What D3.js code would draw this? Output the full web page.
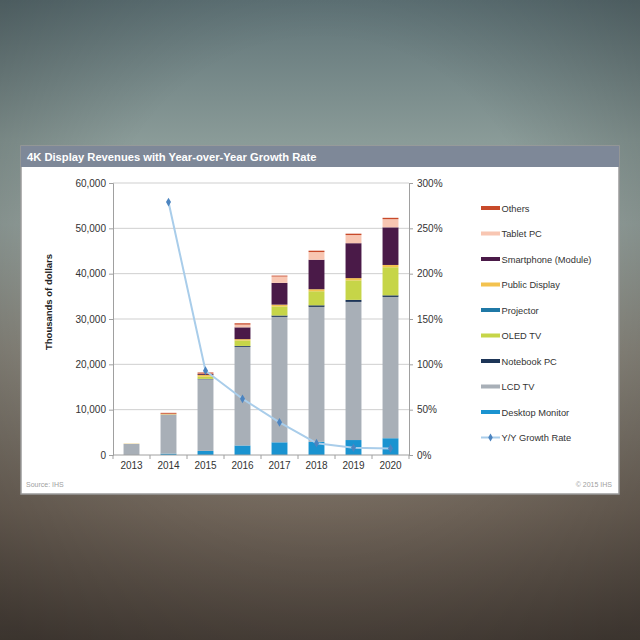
<!DOCTYPE html>
<html>
<head>
<meta charset="utf-8">
<script src="https://cdn.jsdelivr.net/npm/d3@7"></script>
<style>
html,body{margin:0;padding:0;background:#6c7472;}
svg{display:block;font-family:"Liberation Sans",Arial,sans-serif;}
</style>
</head>
<body>
<svg id="chart" width="640" height="640"></svg>
<script>
const years = ["2013","2014","2015","2016","2017","2018","2019","2020"];
const desktopMonitor = [0, 300, 900, 2100, 2800, 2900, 3300, 3700];
const lcdTV = [2450, 8650, 15800, 21760, 27670, 29770, 30470, 31170];
const notebookPC = [0, 0, 100, 200, 300, 350, 450, 350];
const oledTV = [0, 0, 500, 1200, 2000, 3100, 4300, 6200];
const projector = [0, 0, 0, 0, 0, 0, 0, 0];
const publicDisplay = [60, 150, 350, 300, 400, 450, 500, 500];
const smartphone = [0, 0, 200, 2600, 4800, 6500, 7700, 8300];
const tabletPC = [0, 0, 100, 600, 1400, 1700, 1800, 1800];
const others = [0, 200, 250, 300, 200, 300, 300, 300];
const growthRate = [null, 279, 93, 62, 36, 13, 8, 7.3];
const leftTicks = [0, 10000, 20000, 30000, 40000, 50000, 60000];
const rightTicks = [0, 50, 100, 150, 200, 250, 300];

const seriesNames = ["Desktop Monitor","LCD TV","Notebook PC","OLED TV","Projector","Public Display","Smartphone (Module)","Tablet PC","Others"];
const seriesValues = [desktopMonitor, lcdTV, notebookPC, oledTV, projector, publicDisplay, smartphone, tabletPC, others];
const colors = {
  "Desktop Monitor":"#1a93d0","LCD TV":"#a8afb7","Notebook PC":"#1d3557","OLED TV":"#c6d548",
  "Projector":"#1f78a6","Public Display":"#f3c24f","Smartphone (Module)":"#4a1a48","Tablet PC":"#f8c6b2","Others":"#c84a2a"
};

const svg = d3.select("#chart");
const defs = svg.append("defs");
const lg = defs.append("linearGradient").attr("id","bg").attr("x1",0).attr("y1",0).attr("x2",0).attr("y2",1);
[[0,"#5f7377"],[0.22,"#8a9b98"],[0.35,"#96a39f"],[0.55,"#8d8a80"],[0.8,"#766a5e"],[1,"#524840"]].forEach(s=>lg.append("stop").attr("offset",s[0]).attr("stop-color",s[1]));
const rg = defs.append("radialGradient").attr("id","vig").attr("cx",0.5).attr("cy",0.4).attr("r",0.75);
rg.append("stop").attr("offset",0.45).attr("stop-color","#000").attr("stop-opacity",0);
rg.append("stop").attr("offset",1).attr("stop-color","#000").attr("stop-opacity",0.28);
svg.append("rect").attr("width",640).attr("height",640).attr("fill","url(#bg)");
svg.append("rect").attr("width",640).attr("height",640).attr("fill","url(#vig)");

// card
svg.append("rect").attr("x",21).attr("y",146).attr("width",598).attr("height",348).attr("fill","#fff").attr("stroke","#9a9a9a").attr("stroke-width",1.5);
svg.append("rect").attr("x",21).attr("y",146).attr("width",598).attr("height",21).attr("fill","#7e8898");
svg.append("text").attr("x",27).attr("y",161).attr("fill","#fff").attr("font-weight","bold").attr("font-size",11.2).text("4K Display Revenues with Year-over-Year Growth Rate");

const x = d3.scaleBand().domain(years).range([113,409]).paddingInner(0.57).paddingOuter(0.285);
const y = d3.scaleLinear().domain([0,60000]).range([455,183]);
const y2 = d3.scaleLinear().domain([0,300]).range([455,183]);

// gridlines
svg.append("g").selectAll("line").data(leftTicks.slice(1)).join("line")
  .attr("x1",113).attr("x2",409).attr("y1",d=>y(d)).attr("y2",d=>y(d)).attr("stroke","#cfcfcf").attr("stroke-width",1);

// stacked bars
const table = years.map((yr,i)=>{const o={year:yr}; seriesNames.forEach((n,j)=>o[n]=seriesValues[j][i]); return o;});
const stack = d3.stack().keys(seriesNames)(table);
svg.append("g").selectAll("g").data(stack).join("g").attr("fill",d=>colors[d.key])
  .selectAll("rect").data(d=>d).join("rect")
  .attr("x",d=>x(d.data.year)).attr("width",x.bandwidth())
  .attr("y",d=>y(d[1])).attr("height",d=>Math.max(0,y(d[0])-y(d[1])));

// axes
const axisColor="#a0a0a0";
const gl = svg.append("g").attr("transform","translate(113,0)").call(d3.axisLeft(y).tickValues(leftTicks).tickSize(4).tickFormat(d3.format(",")));
const gr = svg.append("g").attr("transform","translate(409,0)").call(d3.axisRight(y2).tickValues(rightTicks).tickSize(4).tickFormat(d=>d+"%"));
[gl,gr].forEach(g=>{g.select(".domain").attr("stroke",axisColor); g.selectAll(".tick line").attr("stroke",axisColor); g.selectAll("text").attr("fill","#333").attr("font-size",10).attr("font-family","Liberation Sans, Arial, sans-serif");});
gl.selectAll("text").attr("x",-7);
gr.selectAll("text").attr("x",8);
const gx = svg.append("g").attr("transform","translate(0,455)").call(d3.axisBottom(x).tickSize(0).tickPadding(7));
gx.select(".domain").attr("stroke",axisColor).attr("d","M113,0H409");
gx.selectAll("text").attr("fill","#333").attr("font-size",10).attr("font-family","Liberation Sans, Arial, sans-serif");
svg.append("g").selectAll("line").data(d3.range(years.length+1)).join("line")
  .attr("x1",d=>113+d*x.step()).attr("x2",d=>113+d*x.step()).attr("y1",455).attr("y2",459).attr("stroke",axisColor);

// growth line
const gData = years.map((yr,i)=>({year:yr,v:growthRate[i]})).filter(d=>d.v!=null);
const line = d3.line().x(d=>x(d.year)+x.bandwidth()/2).y(d=>y2(d.v)).curve(d3.curveLinear);
svg.append("path").datum(gData).attr("d",line).attr("fill","none").attr("stroke","#a9cdea").attr("stroke-width",2).attr("stroke-linejoin","round");
svg.append("g").selectAll("path").data(gData).join("path")
  .attr("transform",d=>`translate(${x(d.year)+x.bandwidth()/2},${y2(d.v)})`)
  .attr("d",d3.symbol().type(d3.symbolDiamond).size(22)).attr("fill","#4c84c0");

// y title
svg.append("text").attr("transform","translate(52,302) rotate(-90)").attr("text-anchor","middle")
  .attr("font-weight","bold").attr("font-size",9.5).attr("fill","#222").text("Thousands  of dollars");

// legend
const legendItems = ["Others","Tablet PC","Smartphone (Module)","Public Display","Projector","OLED TV","Notebook PC","LCD TV","Desktop Monitor","Y/Y Growth Rate"];
const lgG = svg.append("g").selectAll("g").data(legendItems).join("g").attr("transform",(d,i)=>`translate(481,${208+i*25.5})`);
lgG.each(function(d){
  const g=d3.select(this);
  if(d==="Y/Y Growth Rate"){
    g.append("line").attr("x1",0).attr("x2",19).attr("y1",0).attr("y2",0).attr("stroke","#a9cdea").attr("stroke-width",2);
    g.append("path").attr("transform","translate(9.5,0)").attr("d",d3.symbol().type(d3.symbolDiamond).size(18)).attr("fill","#4c84c0");
  } else {
    g.append("rect").attr("x",0).attr("y",-2).attr("width",19).attr("height",4).attr("fill",colors[d]);
  }
  g.append("text").attr("x",20.5).attr("y",3.5).attr("font-size",9.3).attr("fill","#333").text(d);
});

// footer
svg.append("text").attr("x",26).attr("y",487).attr("font-size",7).attr("fill","#a0a0a0").text("Source: IHS");
svg.append("text").attr("x",612).attr("y",487).attr("text-anchor","end").attr("font-size",7).attr("fill","#a0a0a0").text("© 2015 IHS");
</script>
</body>
</html>
